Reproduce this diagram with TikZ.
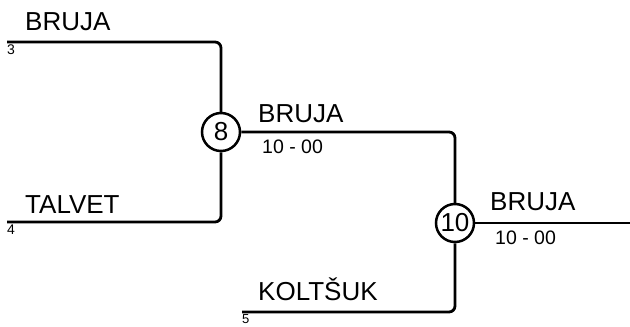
\documentclass[tikz,border=0pt]{standalone}
\usepackage{fontspec}
\setmainfont{Liberation Sans}
\begin{document}
\begin{tikzpicture}[x=1pt,y=-1pt,
  conn/.style={line width=2.8pt, rounded corners=6pt},
  game/.style={circle, draw, line width=2.5pt, minimum size=38pt, inner sep=0pt, font=\fontsize{26}{26}\selectfont, fill=white},
  playerlbl/.style={anchor=base west, inner sep=0pt, font=\fontsize{26}{26}\selectfont},
  scorelbl/.style={anchor=base west, inner sep=0pt, font=\fontsize{19.5}{19.5}\selectfont},
  seedlbl/.style={anchor=north west, inner sep=0pt, font=\fontsize{14}{14}\selectfont}]
\useasboundingbox (0,0) rectangle (630,327);
% circles
\node[game] (c8) at (221,132) {8};
\node[game] (c10) at (455,223) {10};
% end coordinates
\coordinate (p3) at (7,42);
\coordinate (p4) at (7,222);
\coordinate (p5) at (242,312);
\coordinate (out) at (630,223);
% connectors
\draw[conn] (p3) -| (c8.north);
\draw[conn] (p4) -| (c8.south);
\draw[conn] (c8.east) -| (c10.north);
\draw[conn] (p5) -| (c10.south);
\draw[conn] (c10.east) -- (out);
% labels
\node[playerlbl] (n1) at (25,30) {BRUJA};
\node[seedlbl] (s3) at (7,45) {3};
\node[playerlbl] (n2) at (25,213) {TALVET};
\node[seedlbl] (s4) at (7,225) {4};
\node[playerlbl] (n3) at (258,122) {BRUJA};
\node[scorelbl] (r1) at (262,153) {10 - 00};
\node[playerlbl] (n4) at (258,300) {KOLTŠUK};
\node[seedlbl, font=\fontsize{13}{13}\selectfont] (s5) at (242,314.5) {5};
\node[playerlbl] (n5) at (490,210) {BRUJA};
\node[scorelbl] (r2) at (495,244) {10 - 00};
\end{tikzpicture}
\end{document}
